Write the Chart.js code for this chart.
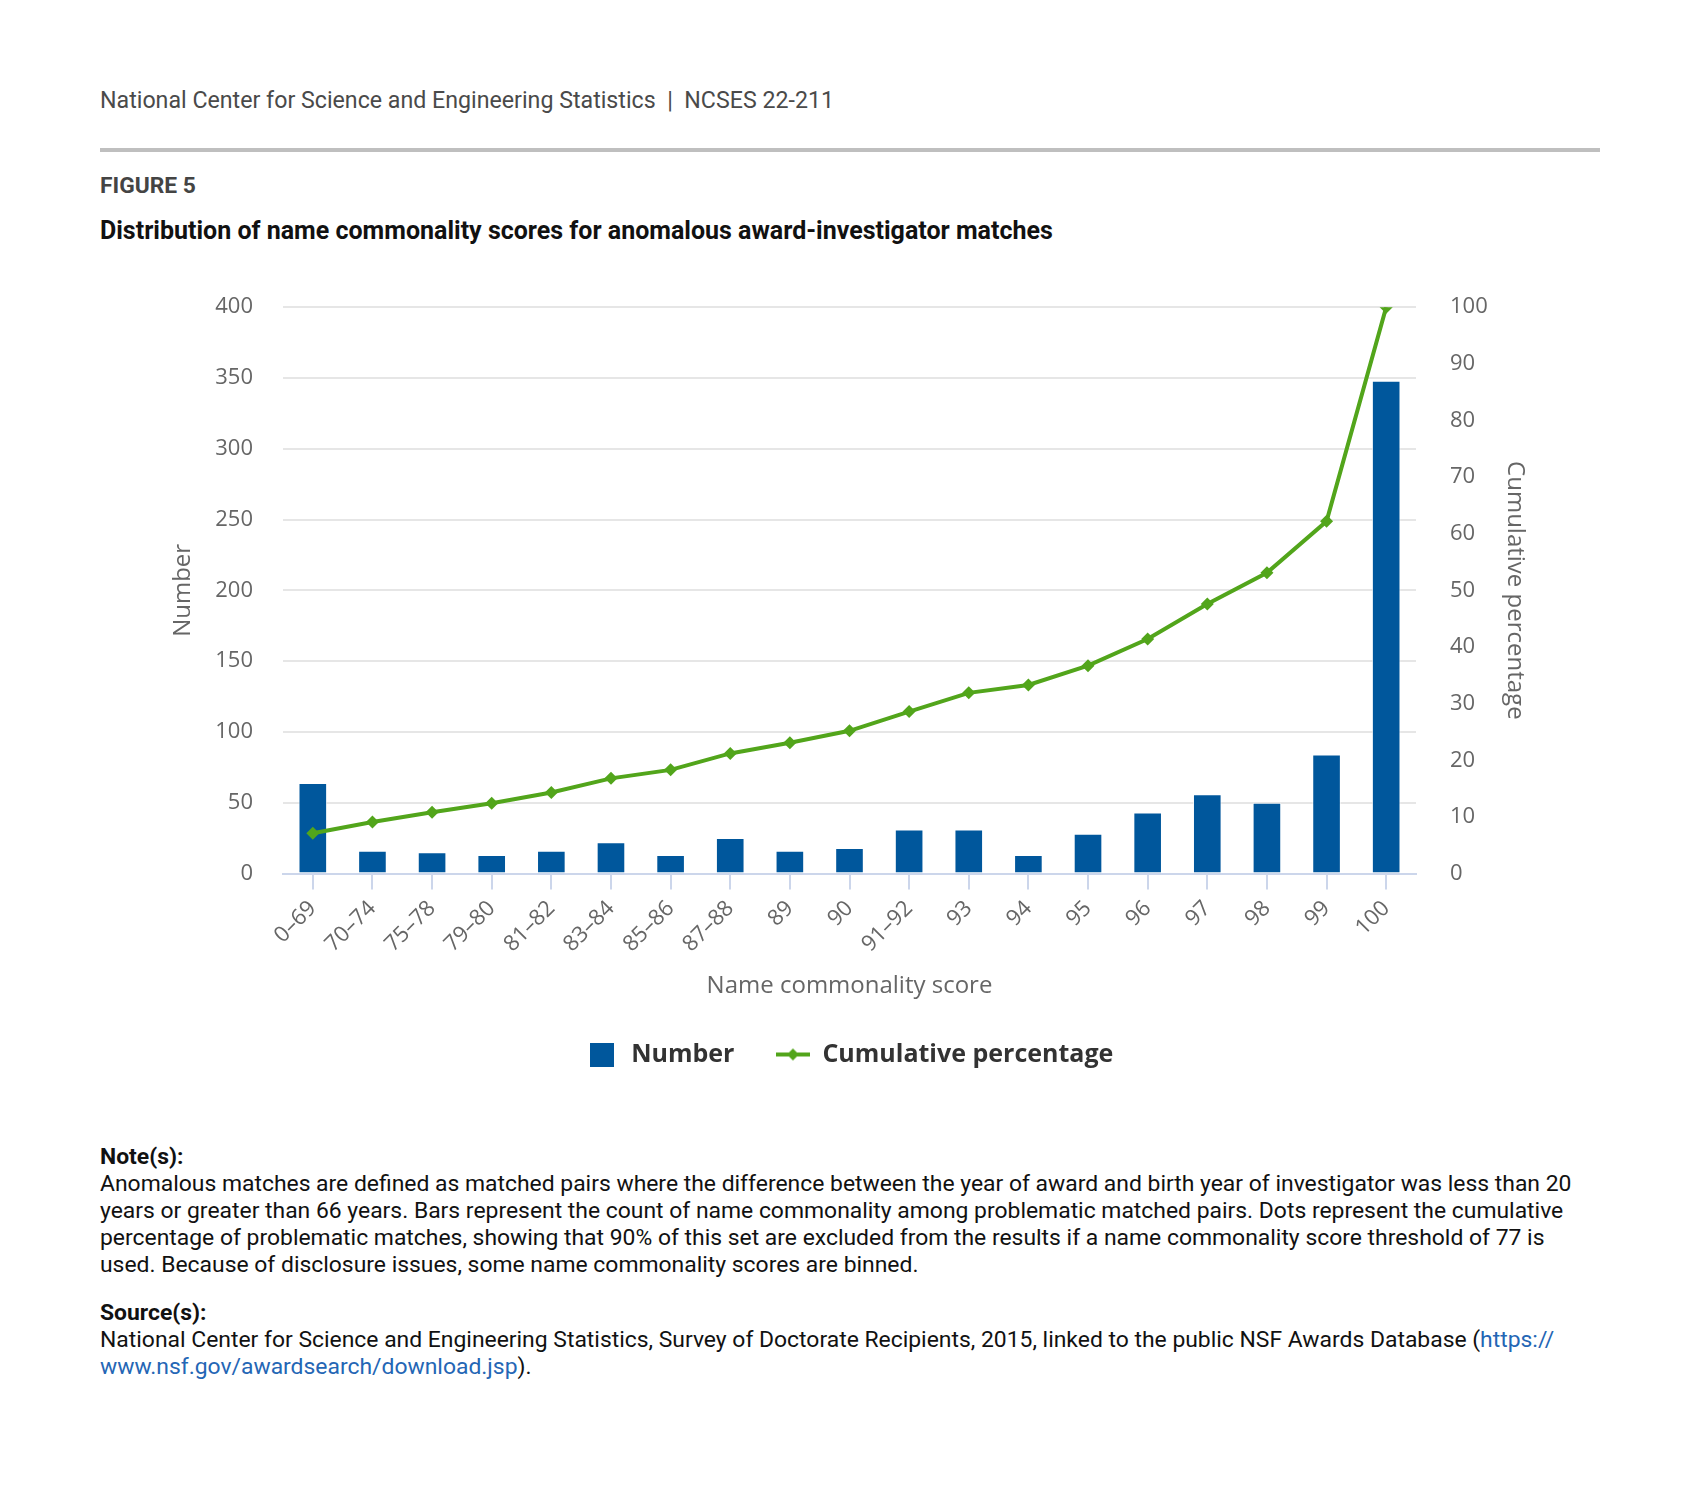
<!DOCTYPE html>
<html>
<head>
<meta charset="utf-8">
<script src="https://cdn.jsdelivr.net/npm/chart.js@4.4.1/dist/chart.umd.min.js"></script>
<style>
  html, body { margin: 0; padding: 0; background: #fff; }
  body { width: 1699px; height: 1488px; position: relative; font-family: Roboto, sans-serif; }
  .txt { position: absolute; left: 100px; white-space: nowrap; }
  #header { top: 86px; font-size: 23.2px; line-height: 28px; color: #4a4a4a; }
  #rule { position: absolute; left: 100px; top: 148px; width: 1500px; height: 4px; background: #bfbfbf; }
  #figno { top: 172px; font-size: 22.8px; line-height: 28px; font-weight: bold; color: #444; }
  #title { top: 216px; font-size: 25px; line-height: 30px; font-weight: bold; color: #111; }
  .notes { font-size: 22.9px; line-height: 27px; color: #111; }
  .notes b { display: block; }
  #notes { top: 1143px; }
  #source { top: 1299px; }
  .notes a { color: #2466b5; text-decoration: none; }
  #chartBox { position: absolute; left: 0; top: 260px; width: 1699px; height: 830px; }
</style>
</head>
<body>
<div id="header" class="txt">National Center for Science and Engineering Statistics &nbsp;|&nbsp; NCSES 22-211</div>
<div id="rule"></div>
<div id="figno" class="txt">FIGURE 5</div>
<div id="title" class="txt">Distribution of name commonality scores for anomalous award-investigator matches</div>
<div id="chartBox"><canvas id="chart"></canvas></div>
<div id="notes" class="txt notes"><b>Note(s):</b>Anomalous matches are defined as matched pairs where the difference between the year of award and birth year of investigator was less than 20<br>years or greater than 66 years. Bars represent the count of name commonality among problematic matched pairs. Dots represent the cumulative<br>percentage of problematic matches, showing that 90% of this set are excluded from the results if a name commonality score threshold of 77 is<br>used. Because of disclosure issues, some name commonality scores are binned.</div>
<div id="source" class="txt notes"><b>Source(s):</b>National Center for Science and Engineering Statistics, Survey of Doctorate Recipients, 2015, linked to the public NSF Awards Database (<a>https://<br>www.nsf.gov/awardsearch/download.jsp</a>).</div>
<script>
  // values
  const scoreBins = ['0–69', '70–74', '75–78', '79–80', '81–82', '83–84', '85–86', '87–88', '89', '90',
    '91–92', '93', '94', '95', '96', '97', '98', '99', '100'];
  const matchCounts = [64, 16, 15, 13, 16, 22, 13, 25, 16, 18, 31, 31, 13, 28, 43, 56, 50, 84, 348];
  const cumulativePct = [7.1, 9.1, 10.8, 12.4, 14.3, 16.8, 18.3, 21.2, 23.1, 25.2, 28.6, 31.9, 33.3, 36.7,
    41.4, 47.6, 53.1, 62.2, 100];
  const countAxis = { max: 400, step: 50 };
  const pctAxis = { max: 100, step: 10 };

  const BLUE = '#00579c';
  const GREEN = '#52a51b';
  const GREY = '#666666';

  // legend symbols
  function squareSymbol() {
    const c = document.createElement('canvas');
    c.width = 24; c.height = 24;
    const g = c.getContext('2d');
    g.fillStyle = BLUE;
    g.fillRect(0, 0, 24, 24);
    return c;
  }
  function lineSymbol() {
    const c = document.createElement('canvas');
    c.width = 34; c.height = 14;
    const g = c.getContext('2d');
    g.fillStyle = GREEN;
    g.fillRect(0, 5, 34, 4);
    g.beginPath();
    g.moveTo(17, 1); g.lineTo(23, 7); g.lineTo(17, 13); g.lineTo(11, 7);
    g.closePath();
    g.fill();
    return c;
  }
  const legendSymbols = [squareSymbol(), lineSymbol()];

  const ctx = document.getElementById('chart').getContext('2d');
  const chart = new Chart(ctx, {
    data: {
      labels: scoreBins,
      datasets: [
        {
          type: 'bar',
          label: 'Number',
          data: matchCounts,
          yAxisID: 'y',
          backgroundColor: BLUE,
          borderColor: 'rgba(255,255,255,0.7)',
          borderWidth: 1,
          barPercentage: 0.48,
          categoryPercentage: 1,
          order: 2,
        },
        {
          type: 'line',
          label: 'Cumulative percentage',
          data: cumulativePct,
          yAxisID: 'y1',
          borderColor: GREEN,
          backgroundColor: GREEN,
          borderWidth: 4,
          pointStyle: 'rectRot',
          pointRadius: 6.5,
          pointBorderWidth: 0,
          tension: 0,
          order: 1,
        },
      ],
    },
    options: {
      responsive: true,
      maintainAspectRatio: false,
      animation: false,
      layout: { padding: { left: 169, right: 170, top: 40, bottom: 13 } },
      plugins: {
        tooltip: { enabled: false },
        legend: {
          position: 'bottom',
          labels: {
            usePointStyle: true,
            pointStyleWidth: 34,
            padding: 41.5,
            color: '#333',
            font: { family: 'Open Sans', size: 25, weight: 'bold' },
            generateLabels: (c) => c.data.datasets.map((ds, i) => ({
              text: ds.label,
              pointStyle: legendSymbols[i],
              fillStyle: BLUE,
              strokeStyle: 'transparent',
              lineWidth: 0,
              fontColor: '#333',
              datasetIndex: i,
              hidden: false,
            })),
          },
        },
      },
      scales: {
        x: {
          offset: true,
          grid: {
            offset: false,
            drawOnChartArea: false,
            drawTicks: true,
            tickLength: 16,
            color: '#ccd6eb',
            lineWidth: 2,
          },
          border: { color: '#ccd6eb', width: 2 },
          ticks: {
            autoSkip: false,
            minRotation: 45,
            maxRotation: 45,
            padding: 6,
            color: GREY,
            font: { family: 'Open Sans', size: 22 },
          },
          title: {
            display: true,
            text: 'Name commonality score',
            color: GREY,
            padding: 0,
            font: { family: 'Open Sans', size: 24 },
          },
          afterFit: (s) => { s.height = 127; },
        },
        y: {
          position: 'left',
          min: 0,
          max: countAxis.max,
          ticks: {
            stepSize: countAxis.step,
            padding: 30,
            color: GREY,
            font: { family: 'Open Sans', size: 22 },
          },
          grid: { color: '#e6e6e6', lineWidth: 2, drawTicks: false },
          border: { display: false },
          title: {
            display: true,
            text: 'Number',
            color: GREY,
            padding: 0,
            font: { family: 'Open Sans', size: 24 },
          },
          afterFit: (s) => { s.width = 114; },
        },
        y1: {
          position: 'right',
          min: 0,
          max: pctAxis.max,
          ticks: {
            stepSize: pctAxis.step,
            padding: 34,
            color: GREY,
            font: { family: 'Open Sans', size: 22 },
          },
          grid: { drawOnChartArea: false, drawTicks: false },
          border: { display: false },
          title: {
            display: true,
            text: 'Cumulative percentage',
            color: GREY,
            padding: 0,
            font: { family: 'Open Sans', size: 24 },
          },
          afterFit: (s) => { s.width = 113; },
        },
      },
    },
  });
</script>
</body>
</html>
